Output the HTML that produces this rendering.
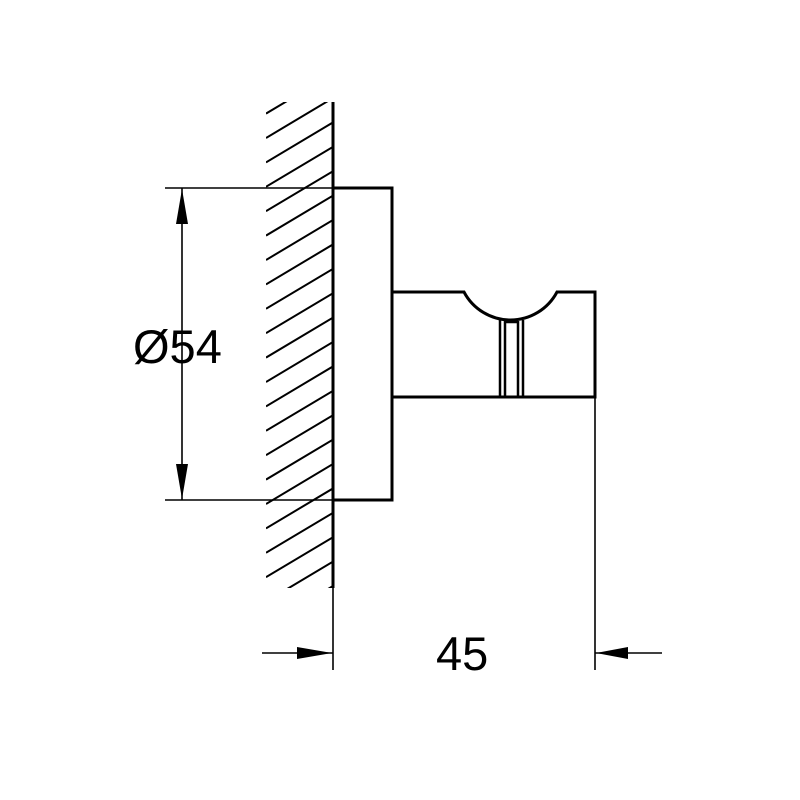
<!DOCTYPE html>
<html><head><style>html,body{margin:0;padding:0;background:#fff}svg{display:block}</style></head>
<body>
<svg width="800" height="800" viewBox="0 0 800 800" xmlns="http://www.w3.org/2000/svg">
<defs><clipPath id="c"><rect x="266" y="102" width="67" height="486"/></clipPath></defs>
<g clip-path="url(#c)" stroke="#000" stroke-width="2" fill="none">
<path d="M333,73.6 l-67,40 M333,98 l-67,40 M333,122.4 l-67,40 M333,146.8 l-67,40 M333,171.2 l-67,40 M333,195.6 l-67,40 M333,220 l-67,40 M333,244.4 l-67,40 M333,268.8 l-67,40 M333,293.2 l-67,40 M333,317.6 l-67,40 M333,342 l-67,40 M333,366.4 l-67,40 M333,390.8 l-67,40 M333,415.2 l-67,40 M333,439.6 l-67,40 M333,464 l-67,40 M333,488.4 l-67,40 M333,512.8 l-67,40 M333,537.2 l-67,40 M333,561.6 l-67,40 M333,586 l-67,40"/>
</g>
<g stroke="#000" fill="none">
<line x1="333" y1="102" x2="333" y2="588" stroke-width="3"/>
<line x1="333" y1="588" x2="333" y2="670" stroke-width="1.6"/>
<path d="M333,188 H392 V500 H333" stroke-width="3"/>
<line x1="165" y1="188" x2="333" y2="188" stroke-width="1.6"/>
<line x1="165" y1="500" x2="333" y2="500" stroke-width="1.6"/>
<line x1="182" y1="188" x2="182" y2="500" stroke-width="1.6"/>
<path d="M392,292 H464 A52.6,52.6 0 0 0 557,292 H595 V397 H392" stroke-width="3"/>
<path d="M500,320 V397 M505,321 V397 M505,322 H518 M518,321 V397 M523,320 V397 M505,397 H518" stroke-width="2.5"/>
<line x1="595" y1="397" x2="595" y2="670" stroke-width="1.6"/>
<line x1="262" y1="653" x2="333" y2="653" stroke-width="1.6"/>
<line x1="595" y1="653" x2="662" y2="653" stroke-width="1.6"/>
</g>
<g fill="#000">
<polygon points="182,189 176,224 188,224"/>
<polygon points="182,499 176,464 188,464"/>
<polygon points="332,653 297,647 297,659"/>
<polygon points="596,653 628,647 628,659"/>
</g>
<g font-family="Liberation Sans, sans-serif" font-size="47" fill="#000">
<text x="133" y="363">Ø54</text>
<text x="436" y="670">45</text>
</g>
</svg>
</body></html>
